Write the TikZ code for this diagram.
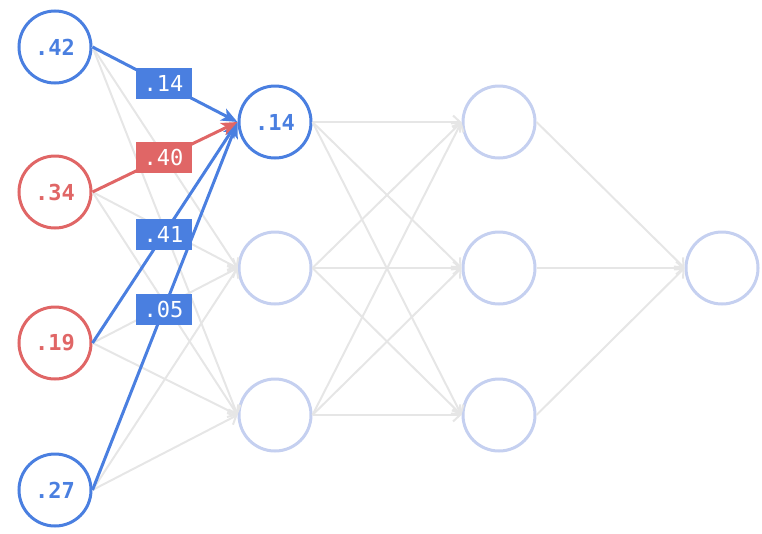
\documentclass[tikz,border=0pt]{standalone}
\usepackage{fontspec}
\setmonofont{DejaVu Sans Mono}
\usetikzlibrary{arrows.meta}
\definecolor{nblue}{HTML}{4A7FE0}
\definecolor{nred}{HTML}{E06666}
\definecolor{npale}{HTML}{C5D0F0}
\definecolor{ngray}{HTML}{E6E6E6}
\tikzset{
	unit/.style={circle, draw=#1, line width=3pt, minimum size=72pt, inner sep=0pt,
		text=#1, font=\ttfamily\bfseries\fontsize{22}{22}\selectfont},
	faint/.style={ngray, line width=2pt, -{Straight Barb[length=7pt,width=13pt]}},
	wire/.style={#1, line width=3pt, -{Stealth[length=16pt,width=13pt,inset=4pt]}},
	weight/.style={fill=#1, text=white, inner sep=0pt, minimum width=56pt, minimum height=31pt,
		font=\ttfamily\fontsize{22}{22}\selectfont}
}
\begin{document}
\begin{tikzpicture}[x=1pt,y=-1pt]
	\useasboundingbox (0,0) rectangle (762,533);

	% layers
	\foreach \n/\y/\v/\c in {a/47/.42/nblue, b/192/.34/nred, c/343/.19/nred, d/490/.27/nblue}
		\node[unit=\c] (\n) at (55,\y) {\v};
	\node[unit=nblue] (h1) at (275,122) {.14};
	\node[unit=npale] (h2) at (275,268) {};
	\node[unit=npale] (h3) at (275,415) {};
	\node[unit=npale] (k1) at (499,122) {};
	\node[unit=npale] (k2) at (499,268) {};
	\node[unit=npale] (k3) at (499,415) {};
	\node[unit=npale] (out) at (722,268) {};

	% faint edges
	\foreach \s in {a,b,c,d}
		\foreach \t in {h2,h3}
			\draw[faint] (\s.east) -- (\t.west);
	\foreach \s in {h1,h2,h3}
		\foreach \t in {k1,k2,k3}
			\draw[faint] (\s.east) -- (\t.west);
	\foreach \s in {k1,k2,k3}
		\draw[faint] (\s.east) -- (out.west);

	% weighted inputs into the first unit
	\foreach \s/\w/\c in {d/.05/nblue, c/.41/nblue, b/.40/nred, a/.14/nblue}
		\draw[wire=\c] (\s.east) -- (h1.west) node[pos=.49, weight=\c] {\w};
\end{tikzpicture}
\end{document}
